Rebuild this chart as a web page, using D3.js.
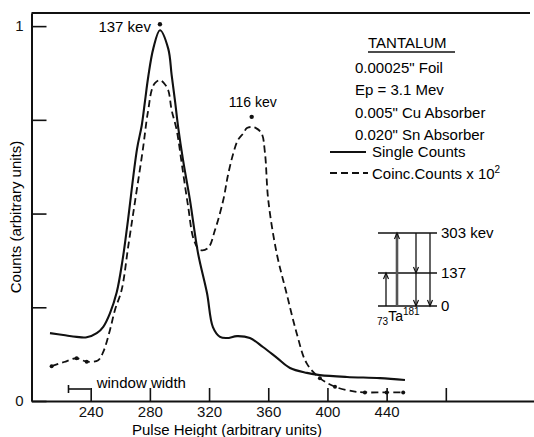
<!DOCTYPE html>
<html>
<head>
<meta charset="utf-8">
<script src="https://cdn.jsdelivr.net/npm/d3@7/dist/d3.min.js"></script>
<style>
  body { margin: 0; background: #fff; }
  svg { display: block; font-family: "Liberation Sans", Arial, sans-serif; }
</style>
</head>
<body>
<svg></svg>
<script>
// single counts curve (pulse height, relative counts)
let singlePulse = [212.5, 221.5, 230.5, 237.3, 244.1, 248.5, 253.0, 257.6, 261.5, 264.8, 271.3, 274.5, 276.7, 278.9, 282.3, 286.8,
                   292.4, 294.7, 297.0, 299.2, 302.4, 307.1, 312.5, 318.6, 322.6, 327.4, 332.1, 338.9, 347.6, 356.4, 365.9,
                   374.7, 386.1, 394.9, 413.2, 435.5, 452.4]
let singleCounts = [0.181, 0.176, 0.171, 0.170, 0.181, 0.198, 0.234, 0.290, 0.375, 0.470, 0.672, 0.735, 0.800, 0.865, 0.940, 0.989,
                    0.940, 0.870, 0.800, 0.728, 0.643, 0.536, 0.395, 0.288, 0.197, 0.171, 0.168, 0.173, 0.168, 0.144, 0.115,
                    0.088, 0.075, 0.069, 0.064, 0.061, 0.056]

// coincidence counts x 10^2
let coincPulse = [213.6, 222.0, 230.5, 237.3, 245.1, 248.5, 253.0, 256.4, 260.9, 265.5, 270.1, 275.5, 277.8, 278.9, 281.2,
                  283.4, 286.8, 289.5, 292.4, 294.7, 298.1, 301.7, 305.7, 309.8, 313.9, 319.3, 324.0, 329.6, 332.8, 336.4,
                  339.5, 343.1, 345.6, 348.8, 351.7, 355.5, 357.8, 360.0, 365.7, 372.4, 379.2, 385.9, 394.9, 405.1, 418.6,
                  425.3, 440.0, 451.2]
let coincCounts = [0.093, 0.104, 0.114, 0.105, 0.109, 0.131, 0.189, 0.243, 0.296, 0.416, 0.536, 0.678, 0.749, 0.776, 0.829,
                   0.848, 0.856, 0.848, 0.829, 0.776, 0.723, 0.629, 0.523, 0.429, 0.403, 0.408, 0.456, 0.536, 0.603, 0.661,
                   0.696, 0.714, 0.728, 0.731, 0.728, 0.714, 0.661, 0.536, 0.394, 0.287, 0.181, 0.101, 0.061, 0.038, 0.025,
                   0.023, 0.023, 0.023]

// measured coincidence points drawn as dots
let dotPulse = [213.6, 230.5, 237.3, 394.9, 405.1, 425.3, 440.0, 451.2]
let dotCounts = [0.093, 0.114, 0.105, 0.061, 0.038, 0.023, 0.023, 0.023]

// peak markers
let peakNames = ["137 kev", "116 kev"]
let peakPulse = [286.8, 348.8]
let peakCounts = [1.005, 0.758]

let xTickValues = [240, 280, 320, 360, 400, 440, 480]
let xTickLabels = ["240", "280", "320", "360", "400", "440", ""]
let yTickValues = [0, 0.25, 0.5, 0.75, 1]
let yTickLabels = ["0", "", "", "", "1"]

let windowWidth = [225, 240]

let infoLines = ["0.00025\" Foil", "Ep = 3.1 Mev", "0.005\" Cu Absorber", "0.020\" Sn Absorber"]
let legendNames = ["Single Counts", "Coinc.Counts x 10"]

// Ta181 level scheme (kev)
let levelEnergies = [0, 137, 303]
let levelLabels = ["0", "137", "303 kev"]
let transFrom = [0, 0, 303, 137, 303]
let transTo = [137, 303, 137, 0, 0]
let transColumn = [0, 1, 2, 2, 3]

let width = 534
let height = 437

let xScale
let yScale
let levelScale
let columnScale

let svg = d3.select("svg")

let drawCanvas = () => {
    svg.attr("width", width)
    svg.attr("height", height)
}

let generateScales = () => {
    xScale = d3.scaleLinear()
                .domain([200, 545])
                .range([31.5, 542])
    yScale = d3.scaleLinear()
                .domain([0, 1.035])
                .range([401, 13])
    levelScale = d3.scaleLinear()
                .domain([0, 303])
                .range([306, 233])
    columnScale = d3.scaleLinear()
                .domain([0, 1, 2, 3])
                .range([386, 397, 416, 430])
}

let generateAxes = () => {
    let xAxis = d3.axisBottom(xScale)
                  .tickValues(xTickValues)
                  .tickFormat((d, i) => xTickLabels[i])
                  .tickSizeInner(-13)
                  .tickSizeOuter(0)
                  .tickPadding(5)
    let yAxis = d3.axisLeft(yScale)
                  .tickValues(yTickValues)
                  .tickFormat((d, i) => yTickLabels[i])
                  .tickSizeInner(-15)
                  .tickSizeOuter(0)
                  .tickPadding(8)

    let gx = svg.append("g")
        .attr("id", "x-axis")
        .attr("transform", "translate(0," + yScale(0) + ")")
        .call(xAxis)
    let gy = svg.append("g")
        .attr("id", "y-axis")
        .attr("transform", "translate(" + xScale(200) + ",0)")
        .call(yAxis)

    svg.selectAll(".domain").attr("stroke", "#111").attr("stroke-width", 2)
    svg.selectAll(".tick line").attr("stroke", "#111").attr("stroke-width", 1.6)
    gx.selectAll("text").attr("font-size", 15).attr("fill", "#111").attr("font-family", "Liberation Sans")
    gy.selectAll("text").attr("font-size", 15).attr("fill", "#111").attr("font-family", "Liberation Sans")

    // top frame line
    svg.append("line")
        .attr("x1", xScale(200)).attr("x2", 530)
        .attr("y1", yScale(1.035)).attr("y2", yScale(1.035))
        .attr("stroke", "#111").attr("stroke-width", 2)

    svg.append("text")
        .attr("x", 227).attr("y", 435)
        .attr("text-anchor", "middle")
        .attr("font-size", 15)
        .text("Pulse Height (arbitrary units)")

    svg.append("text")
        .attr("transform", "translate(21,217) rotate(-90)")
        .attr("text-anchor", "middle")
        .attr("font-size", 15)
        .text("Counts (arbitrary units)")
}

let drawLines = () => {
    let line = d3.line()
                 .x(d => xScale(d[0]))
                 .y(d => yScale(d[1]))
                 .curve(d3.curveCatmullRom.alpha(0.5))

    svg.append("path")
        .datum(singlePulse.map((p, i) => [p, singleCounts[i]]))
        .attr("d", line)
        .attr("fill", "none")
        .attr("stroke", "#111")
        .attr("stroke-width", 2.1)

    svg.append("path")
        .datum(coincPulse.map((p, i) => [p, coincCounts[i]]))
        .attr("d", line)
        .attr("fill", "none")
        .attr("stroke", "#111")
        .attr("stroke-width", 1.8)
        .attr("stroke-dasharray", "7,4")

    svg.selectAll(".pt")
        .data(dotPulse)
        .enter()
        .append("circle")
        .attr("class", "pt")
        .attr("cx", d => xScale(d))
        .attr("cy", (d, i) => yScale(dotCounts[i]))
        .attr("r", 2)
        .attr("fill", "#111")

    // peak markers
    svg.selectAll(".peak")
        .data(peakPulse)
        .enter()
        .append("circle")
        .attr("class", "peak")
        .attr("cx", d => xScale(d))
        .attr("cy", (d, i) => yScale(peakCounts[i]))
        .attr("r", 2.2)
        .attr("fill", "#111")

    svg.append("text")
        .attr("x", xScale(peakPulse[0]) - 9)
        .attr("y", yScale(peakCounts[0]) + 8)
        .attr("text-anchor", "end")
        .attr("font-size", 15)
        .text(peakNames[0])

    svg.append("text")
        .attr("x", xScale(peakPulse[1]) + 1)
        .attr("y", yScale(peakCounts[1]) - 10)
        .attr("text-anchor", "middle")
        .attr("font-size", 14)
        .text(peakNames[1])

    // window width bar
    let wy = 389
    svg.append("line")
        .attr("x1", xScale(windowWidth[0])).attr("x2", xScale(windowWidth[1]))
        .attr("y1", wy).attr("y2", wy)
        .attr("stroke", "#111").attr("stroke-width", 1.6)
    svg.append("line")
        .attr("x1", xScale(windowWidth[0])).attr("x2", xScale(windowWidth[0]))
        .attr("y1", wy - 4).attr("y2", wy + 4)
        .attr("stroke", "#111").attr("stroke-width", 1.6)
    svg.append("text")
        .attr("x", xScale(windowWidth[1]) + 6).attr("y", 388)
        .attr("font-size", 15)
        .text("window width")
}

let drawLegend = () => {
    let tx = 355
    svg.append("text")
        .attr("x", 368).attr("y", 48)
        .attr("font-size", 15)
        .text("TANTALUM")
    svg.append("line")
        .attr("x1", 368).attr("x2", 455)
        .attr("y1", 52).attr("y2", 52)
        .attr("stroke", "#111").attr("stroke-width", 1.3)

    svg.selectAll(".info")
        .data(infoLines)
        .enter()
        .append("text")
        .attr("class", "info")
        .attr("x", tx)
        .attr("y", (d, i) => 73 + i * 22.3)
        .attr("font-size", 15)
        .text(d => d)

    svg.append("line")
        .attr("x1", 330).attr("x2", 366)
        .attr("y1", 152).attr("y2", 152)
        .attr("stroke", "#111").attr("stroke-width", 2)
    svg.append("line")
        .attr("x1", 330).attr("x2", 368)
        .attr("y1", 173).attr("y2", 173)
        .attr("stroke", "#111").attr("stroke-width", 1.8)
        .attr("stroke-dasharray", "7,4")

    svg.append("text")
        .attr("x", 372).attr("y", 157)
        .attr("font-size", 15)
        .text(legendNames[0])
    let t = svg.append("text")
        .attr("x", 372).attr("y", 179)
        .attr("font-size", 15)
        .text(legendNames[1])
    t.append("tspan")
        .attr("dy", -6)
        .attr("font-size", 10)
        .text("2")
}

let drawLevels = () => {
    let g = svg.append("g")
    g.selectAll(".level")
        .data(levelEnergies)
        .enter()
        .append("line")
        .attr("x1", 378).attr("x2", 437)
        .attr("y1", d => levelScale(d)).attr("y2", d => levelScale(d))
        .attr("stroke", "#111").attr("stroke-width", 1.5)

    g.selectAll(".lvlabel")
        .data(levelLabels)
        .enter()
        .append("text")
        .attr("x", 441)
        .attr("y", (d, i) => levelScale(levelEnergies[i]) + 5)
        .attr("font-size", 15)
        .text(d => d)

    g.selectAll(".trans")
        .data(transFrom)
        .enter()
        .append("line")
        .attr("x1", (d, i) => columnScale(transColumn[i]))
        .attr("x2", (d, i) => columnScale(transColumn[i]))
        .attr("y1", d => levelScale(d))
        .attr("y2", (d, i) => levelScale(transTo[i]))
        .attr("stroke", (d, i) => transColumn[i] === 1 ? "#555" : "#111")
        .attr("stroke-width", (d, i) => transColumn[i] === 1 ? 2.6 : 1.3)

    // arrow heads at the end level
    g.selectAll(".head")
        .data(transTo)
        .enter()
        .append("path")
        .attr("d", (d, i) => {
            let x = columnScale(transColumn[i])
            let y = levelScale(d)
            let s = d > transFrom[i] ? 1 : -1
            return "M" + (x - 2.5) + "," + (y + s * 6) + "L" + x + "," + y + "L" + (x + 2.5) + "," + (y + s * 6)
        })
        .attr("fill", "none")
        .attr("stroke", "#111")
        .attr("stroke-width", 1.2)

    let nuc = g.append("text")
        .attr("x", 377).attr("y", 321)
        .attr("font-size", 14)
    nuc.append("tspan").attr("font-size", 10).attr("dy", 4).text("73")
    nuc.append("tspan").attr("dy", -4).text("Ta")
    nuc.append("tspan").attr("font-size", 10).attr("dy", -6).text("181")
}

drawCanvas()
generateScales()
drawLines()
generateAxes()
drawLegend()
drawLevels()
</script>
</body>
</html>
